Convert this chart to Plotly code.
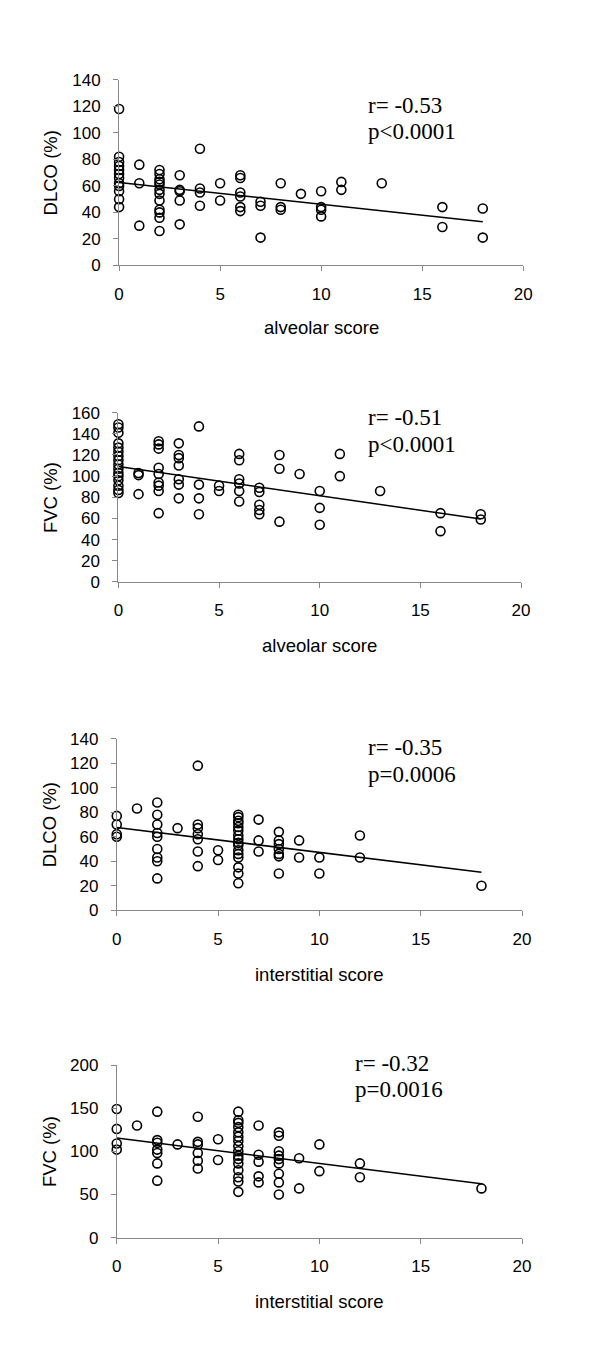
import plotly.graph_objects as go

# ---------------- data ----------------
# Panel 1: DLCO (%) vs alveolar score
p1_x = [0,0,0,0,0,0,0,0,0,0,0,0,
        1,1,1,
        2,2,2,2,2,2,2,2,2,2,2,2,
        3,3,3,3,3,
        4,4,4,4,
        5,5,
        6,6,6,6,6,6,
        7,7,7,
        8,8,8,
        9,
        10,10,10,10,
        11,11,
        13,
        16,16,
        18,18]
p1_y = [118,82,78,75,72,69,66,62,60,56,50,44,
        76,62,30,
        72,69,65,63,61,57,54,49,42,40,36,26,
        68,57,56,49,31,
        88,58,55,45,
        62,49,
        68,66,55,52,44,41,
        48,45,21,
        62,44,42,
        54,
        56,44,42,37,
        63,57,
        62,
        44,29,
        43,21]
p1_trend_x = [0, 18]
p1_trend_y = [62.5, 33]

# Panel 2: FVC (%) vs alveolar score
p2_x = [0]*16 + [1]*3 + [2]*9 + [3]*7 + [4]*4 + [5]*2 + [6]*6 + [7]*5 + [8]*3 + [9] + [10]*3 + [11]*2 + [13] + [16]*2 + [18]*2
p2_y = [149,146,141,131,127,123,119,115,111,107,103,100,96,91,87,84,
        103,101,83,
        133,130,126,108,102,94,91,86,65,
        131,120,117,110,97,92,79,
        147,92,79,64,
        91,86,
        121,115,97,93,86,76,
        89,85,73,68,64,
        120,107,57,
        102,
        86,70,54,
        121,100,
        86,
        65,48,
        64,59]
p2_trend_x = [0, 18]
p2_trend_y = [109, 59.5]

# Panel 3: DLCO (%) vs interstitial score
p3_x = [0]*4 + [1] + [2]*9 + [3] + [4]*7 + [5]*2 + [6]*16 + [7]*3 + [8]*7 + [9]*2 + [10]*2 + [12]*2 + [18]
p3_y = [77,70,62,60,
        83,
        88,78,70,63,60,50,43,40,26,
        67,
        118,70,67,62,58,48,36,
        49,41,
        78,76,73,71,68,65,61,58,55,53,49,46,43,35,30,22,
        74,57,48,
        64,57,54,50,46,44,30,
        57,43,
        43,30,
        61,43,
        20]
p3_trend_x = [0, 18]
p3_trend_y = [67.5, 31]

# Panel 4: FVC (%) vs interstitial score
p4_x = [0]*4 + [1] + [2]*7 + [3] + [4]*6 + [5]*2 + [6]*16 + [7]*5 + [8]*9 + [9]*2 + [10]*2 + [12]*2 + [18]
p4_y = [149,126,109,102,
        130,
        146,113,110,102,98,86,66,
        108,
        140,111,108,98,89,80,
        114,90,
        146,136,133,128,122,117,112,106,100,95,91,86,78,70,65,53,
        130,96,88,71,64,
        122,118,100,95,91,86,74,64,50,
        92,57,
        108,77,
        86,70,
        57]
p4_trend_x = [0, 18]
p4_trend_y = [115.5, 62.5]

x_ticks = [0, 5, 10, 15, 20]
panel_ytitles = ["DLCO (%)", "FVC (%)", "DLCO (%)", "FVC (%)"]
panel_xtitles = ["alveolar score", "alveolar score", "interstitial score", "interstitial score"]
panel_stats = [("r= -0.53", "p<0.0001"), ("r= -0.51", "p<0.0001"),
               ("r= -0.35", "p=0.0006"), ("r= -0.32", "p=0.0016")]
panel_yranges = [(0, 140, 20), (0, 160, 20), (0, 140, 20), (0, 200, 50)]

# ---------------- layout ----------------
OFF = 8                      # default page (body) margin around the figure
W, H = 600 - 2 * OFF, 1367 - 2 * OFF
# pixel geometry (page coords) of each plot area: (left, right, top, bottom)
boxes = [(116.7, 530.7, 71.7, 260),
         (116.0, 528.5, 409.3, 581),
         (114.3, 529.5, 740, 914),
         (114.3, 529.5, 1071, 1246)]
stat_pos = [(370, 106), (370, 423), (370, 758), (356, 1078)]
xtitle_y = [323, 645, 979, 1311]
ytitle_x = [46.7, 46.7, 45.7, 45.7]


def fx(p):
    return (p - OFF) / W


def fy(p):
    return (H - (p - OFF)) / H


panels = [(p1_x, p1_y, p1_trend_x, p1_trend_y),
          (p2_x, p2_y, p2_trend_x, p2_trend_y),
          (p3_x, p3_y, p3_trend_x, p3_trend_y),
          (p4_x, p4_y, p4_trend_x, p4_trend_y)]

fig = go.Figure()
sans = "Liberation Sans, Arial, sans-serif"
serif = "Liberation Serif, Times New Roman, serif"
annotations = []

for i, (px, py, tx, ty) in enumerate(panels):
    n = i + 1
    xa = "x" if n == 1 else f"x{n}"
    ya = "y" if n == 1 else f"y{n}"
    fig.add_trace(go.Scatter(x=tx, y=ty, mode="lines", xaxis=xa, yaxis=ya,
                             line=dict(color="black", width=1.5),
                             showlegend=False, hoverinfo="skip"))
    fig.add_trace(go.Scatter(x=px, y=py, mode="markers", xaxis=xa, yaxis=ya,
                             cliponaxis=False,
                             marker=dict(symbol="circle-open", size=9, color="black",
                                         line=dict(width=1.6, color="black")),
                             showlegend=False))
    l, r, t, b = boxes[i]
    y0, y1, dy = panel_yranges[i]
    xkey = "xaxis" if n == 1 else f"xaxis{n}"
    ykey = "yaxis" if n == 1 else f"yaxis{n}"
    fig.update_layout(**{
        xkey: dict(domain=[fx(l), fx(r)], range=[0, 20], anchor=ya,
                   tickvals=x_ticks, showgrid=False, zeroline=False,
                   showline=True, linecolor="#888888", linewidth=1,
                   ticks="outside", ticklen=5, tickcolor="#888888",
                   ticklabelstandoff=8,
                   tickfont=dict(family=sans, size=17, color="black")),
        ykey: dict(domain=[fy(b), fy(t)], range=[y0, y1], anchor=xa,
                   dtick=dy, tick0=0, showgrid=False, zeroline=False,
                   showline=True, linecolor="#888888", linewidth=1,
                   ticks="outside", ticklen=5, tickcolor="#888888",
                   ticklabelstandoff=9,
                   tickfont=dict(family=sans, size=17, color="black")),
    })
    # axis titles
    annotations.append(dict(text=panel_xtitles[i], xref="paper", yref="paper",
                            x=fx((l + r) / 2), y=fy(xtitle_y[i]),
                            xanchor="center", yanchor="middle", showarrow=False,
                            font=dict(family=sans, size=18.5, color="black")))
    annotations.append(dict(text=panel_ytitles[i], xref="paper", yref="paper",
                            x=fx(ytitle_x[i]), y=fy((t + b) / 2), textangle=-90,
                            xanchor="center", yanchor="middle", showarrow=False,
                            font=dict(family=sans, size=18.5, color="black")))
    # statistics
    sx, sy = stat_pos[i]
    for k, line in enumerate(panel_stats[i]):
        annotations.append(dict(text=line, xref="paper", yref="paper",
                                x=fx(sx), y=fy(sy + 27 * k + 6),
                                xanchor="left", yanchor="bottom", showarrow=False,
                                font=dict(family=serif, size=23, color="black")))

fig.update_layout(width=W, height=H, margin=dict(l=0, r=0, t=0, b=0),
                  plot_bgcolor="white", paper_bgcolor="white",
                  annotations=annotations, showlegend=False)

fig.write_html("out.html")
